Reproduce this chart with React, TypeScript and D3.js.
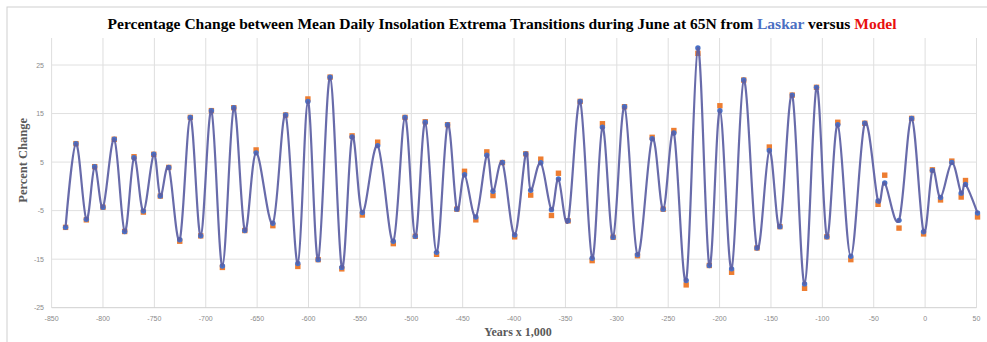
import React from "react";
import * as d3 from "d3";

const years = [
  -836.4, -826.3, -816.2, -808.1, -800, -789, -778.9, -769.8, -760.7, -750.6,
  -744.2, -736, -725.3, -715, -704.9, -694.5, -683.8, -672.7, -662, -651,
  -634.7, -622.3, -610.4, -600.6, -590.6, -579, -567.6, -557.6, -547.6, -532.7,
  -517.5, -506.1, -496.1, -486.4, -475.4, -464.7, -455.7, -448.2, -437.2, -426.5,
  -420.5, -411.3, -399.4, -388.6, -383.8, -374, -363.6, -356.8, -347.4, -335.7,
  -324, -314, -303.6, -292.5, -279.9, -265.6, -254.9, -244.5, -232.5, -221.1,
  -210, -199.7, -188.3, -176.5, -163.6, -151.6, -141.3, -129.3, -117.3, -105.7,
  -95.6, -85, -72.3, -58.7, -45.8, -39.3, -25.4, -13.1, -1.5, 7.1,
  15, 26, 35.1, 39.3, 51,
];

const laskar = [
  -8.45, 8.8, -6.8, 4.05, -4.3, 9.7, -9.3, 5.9, -5.1, 6.6,
  -2.0, 3.9, -11.0, 14.2, -10.2, 15.6, -16.4, 16.2, -9.1, 6.9,
  -7.6, 14.7, -15.9, 17.5, -15.1, 22.5, -16.7, 10.2, -5.4, 8.4,
  -11.3, 14.2, -10.3, 13.2, -13.6, 12.7, -4.7, 2.4, -6.3, 6.4,
  -1.0, 4.9, -10.0, 6.7, -0.8, 4.85, -4.8, 1.5, -7.1, 17.5,
  -14.8, 12.2, -10.5, 16.4, -14.1, 9.8, -4.7, 11.0, -19.4, 28.5,
  -16.3, 15.6, -17.0, 21.9, -12.7, 7.4, -8.3, 18.8, -20.1, 20.4,
  -10.4, 12.7, -14.4, 13.0, -3.0, 0.7, -7.0, 14.0, -9.35, 3.3,
  -2.3, 4.9, -1.4, 0.4, -5.5,
];

const model = [
  -8.45, 8.8, -6.9, 4.05, -4.3, 9.7, -9.3, 6.1, -5.3, 6.6,
  -2.0, 3.9, -11.3, 14.2, -10.2, 15.6, -16.7, 16.2, -9.1, 7.5,
  -8.1, 14.7, -16.5, 18.0, -15.1, 22.5, -17.0, 10.4, -5.9, 9.1,
  -11.8, 14.2, -10.3, 13.3, -14.0, 12.7, -4.7, 3.1, -6.9, 7.1,
  -1.9, 4.9, -10.4, 6.7, -1.8, 5.6, -6.0, 2.7, -7.1, 17.5,
  -15.3, 12.9, -10.5, 16.4, -14.3, 10.1, -4.7, 11.5, -20.3, 27.4,
  -16.3, 16.6, -17.7, 21.9, -12.7, 8.1, -8.3, 18.8, -21.0, 20.4,
  -10.4, 13.2, -15.1, 13.0, -3.7, 2.3, -8.6, 14.0, -9.8, 3.4,
  -2.8, 5.2, -2.2, 1.2, -6.3,
];

const xTicks = [-850, -800, -750, -700, -650, -600, -550, -500, -450, -400, -350, -300, -250, -200, -150, -100, -50, 0, 50];
const yTicks = [-25, -15, -5, 5, 15, 25];

const W = 987;
const H = 342;

export default function App() {
  const x = d3.scaleLinear().domain([-850, 50]).range([51.6, 976.5]);
  const y = d3.scaleLinear().domain([-25, 25]).range([307.7, 65]);
  const plotTop = 38;

  const pts: [number, number][] = years.map((yr, i) => [x(yr), y(laskar[i])]);
  const line = d3.line().curve(d3.curveCardinal.tension(0))(pts) || "";

  const lineColor = "#5b5ea3";
  const blue = "#4a72c8";
  const orange = "#ed7d31";

  return (
    <svg width={W} height={H} style={{ position: "absolute", left: 0, top: 0, background: "#fff" }}>
      <rect x={7} y={7} width={W + 10} height={H + 10} fill="#fff" stroke="#d0d0d0" strokeWidth={1} />
      {/* title */}
      <text
        x={502}
        y={29}
        textAnchor="middle"
        fontFamily="'Liberation Serif', 'Times New Roman', serif"
        fontWeight="bold"
        fontSize={14.5}
        textLength={789}
        lengthAdjust="spacingAndGlyphs"
        fill="#000"
      >
        <tspan>Percentage Change between Mean Daily Insolation Extrema Transitions during June at 65N from </tspan>
        <tspan fill="#4a6fc2">Laskar</tspan>
        <tspan> versus </tspan>
        <tspan fill="#e8110f">Model</tspan>
      </text>

      {/* grid */}
      {xTicks.map((t) => (
        <line key={"gx" + t} x1={x(t)} x2={x(t)} y1={plotTop} y2={y(-25)} stroke="#dedede" strokeWidth={1} />
      ))}
      {yTicks.map((t) => (
        <line key={"gy" + t} x1={x(-850)} x2={x(50)} y1={y(t)} y2={y(t)} stroke={t === -25 ? "#cfcfcf" : "#e0e0e0"} strokeWidth={1} />
      ))}

      {/* tick labels */}
      {yTicks.map((t) => (
        <text key={"ty" + t} x={44} y={y(t) + 2.5} textAnchor="end" fontFamily="'Liberation Sans', Arial, sans-serif" fontSize={7} fill="#8a8a8a">
          {t}
        </text>
      ))}
      {xTicks.map((t) => (
        <text key={"tx" + t} x={x(t)} y={321} textAnchor="middle" fontFamily="'Liberation Sans', Arial, sans-serif" fontSize={7} fill="#8a8a8a">
          {t}
        </text>
      ))}

      {/* axis titles */}
      <text
        transform={`translate(27,${y(0) - 26}) rotate(-90)`}
        textAnchor="middle"
        fontFamily="'Liberation Serif', 'Times New Roman', serif"
        fontWeight="bold"
        fontSize={12.5}
        fill="#595959"
      >
        Percent Change
      </text>
      <text
        x={518}
        y={336}
        textAnchor="middle"
        fontFamily="'Liberation Serif', 'Times New Roman', serif"
        fontWeight="bold"
        fontSize={12}
        fill="#595959"
      >
        Years x 1,000
      </text>

      {/* markers */}
      {years.map((yr, i) => (
        <rect key={"m" + i} x={x(yr) - 2.7} y={y(model[i]) - 2.7} width={5.4} height={5.4} fill={orange} />
      ))}
      {years.map((yr, i) => (
        <circle key={"l" + i} cx={x(yr)} cy={y(laskar[i])} r={2.7} fill={blue} />
      ))}

      {/* line */}
      <path d={line} fill="none" stroke={lineColor} strokeWidth={2.2} strokeOpacity={0.92} />
    </svg>
  );
}
